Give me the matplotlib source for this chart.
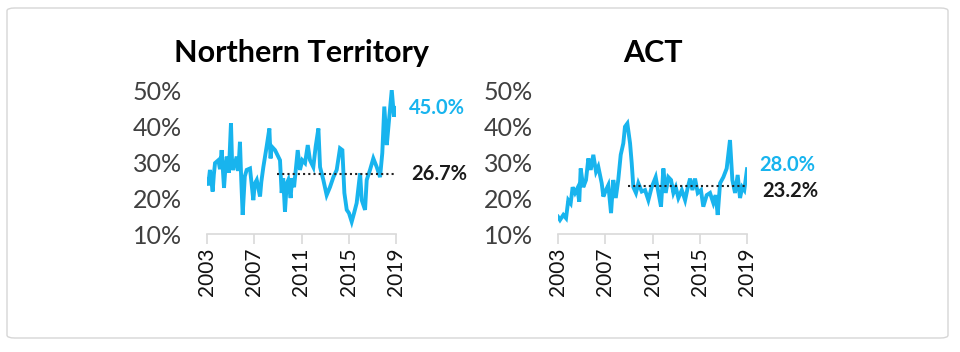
import numpy as np
import matplotlib
matplotlib.use("Agg")
import matplotlib.pyplot as plt
from matplotlib.patches import FancyBboxPatch

plt.rcParams['font.family'] = ['Lato', 'DejaVu Sans']

# values (decimal year, percent)
nt_years = [2003.0, 2003.1, 2003.25, 2003.48, 2003.58, 2003.68, 2003.96, 2004.1,
            2004.24, 2004.44, 2004.55, 2004.67, 2004.85, 2005.03, 2005.13, 2005.23,
            2005.51, 2005.65, 2005.79, 2005.9, 2006.02, 2006.2, 2006.36, 2006.64,
            2006.92, 2007.05, 2007.21, 2007.49, 2007.6, 2007.77, 2008.05, 2008.28,
            2008.38, 2008.48, 2008.76, 2009.18, 2009.32, 2009.45, 2009.6, 2009.75,
            2009.88, 2010.08, 2010.2, 2010.37, 2010.68, 2010.87, 2011.07, 2011.3,
            2011.53, 2011.72, 2012.0, 2012.2, 2012.43, 2012.57, 2012.85, 2013.13,
            2013.41, 2013.7, 2013.98, 2014.26, 2014.46, 2014.63, 2014.83, 2015.02,
            2015.25, 2015.45, 2015.67, 2015.96, 2016.1, 2016.38, 2016.52, 2016.8,
            2017.08, 2017.37, 2017.65, 2017.84, 2018.01, 2018.22, 2018.41, 2018.64,
            2018.83, 2019.0]
nt_vals = [25.0, 23.5, 27.8, 21.8, 26.5, 29.7, 30.5, 28.0,
           33.3, 22.8, 28.0, 31.5, 27.0, 40.8, 29.0, 27.8,
           31.5, 27.5, 35.6, 25.0, 15.3, 26.0, 27.8, 28.2,
           19.4, 24.0, 25.0, 20.4, 24.5, 28.6, 34.3, 39.3,
           31.0, 34.3, 33.3, 30.5, 21.4, 25.5, 16.2, 24.0,
           25.0, 20.0, 25.5, 23.0, 33.3, 27.8, 30.5, 29.7,
           34.7, 30.5, 28.6, 34.3, 39.3, 28.6, 25.0, 20.8,
           23.0, 25.8, 27.8, 33.8, 33.3, 21.4, 16.7, 15.8,
           13.4, 15.8, 18.6, 26.9, 19.4, 16.7, 25.0, 27.8,
           31.0, 28.6, 25.8, 32.5, 45.4, 34.7, 41.7, 50.0,
           42.6, 45.0]

act_years = [2003.0, 2003.17, 2003.45, 2003.68, 2003.87, 2004.07, 2004.24, 2004.44,
             2004.64, 2004.8, 2004.92, 2005.14, 2005.37, 2005.57, 2005.77, 2005.99,
             2006.22, 2006.41, 2006.7, 2006.84, 2007.06, 2007.26, 2007.49, 2007.68,
             2007.89, 2008.1, 2008.31, 2008.53, 2008.67, 2008.87, 2009.1, 2009.24,
             2009.38, 2009.6, 2009.8, 2010.09, 2010.37, 2010.65, 2010.93, 2011.27,
             2011.49, 2011.72, 2011.92, 2012.12, 2012.34, 2012.57, 2012.77, 2012.97,
             2013.19, 2013.48, 2013.76, 2013.99, 2014.18, 2014.38, 2014.6, 2014.83,
             2015.1, 2015.3, 2015.59, 2015.87, 2016.15, 2016.35, 2016.52, 2016.72,
             2017.0, 2017.28, 2017.56, 2017.76, 2017.99, 2018.21, 2018.41, 2018.6,
             2018.77, 2019.0]
act_vals = [14.8, 13.9, 15.3, 14.4, 19.4, 18.5, 23.0, 21.4,
            22.7, 19.0, 28.2, 23.0, 25.0, 31.0, 27.8, 32.0,
            27.3, 28.7, 24.1, 20.4, 22.2, 23.6, 15.8, 25.0,
            20.0, 25.0, 32.0, 35.2, 39.8, 40.7, 35.2, 29.7,
            23.0, 21.4, 24.1, 21.8, 22.2, 19.4, 23.0, 25.8,
            21.7, 17.6, 28.2, 21.4, 25.8, 25.0, 21.4, 23.0,
            20.0, 22.2, 19.4, 23.0, 25.4, 22.2, 25.4, 21.4,
            22.2, 17.6, 20.8, 21.4, 18.6, 20.8, 15.3, 24.1,
            25.8, 28.2, 36.1, 25.0, 21.4, 26.4, 20.0, 23.0,
            22.2, 28.0]

titles = ["Northern Territory", "ACT"]
averages = [26.7, 23.2]
latest = [45.0, 28.0]
avg_start = 2008.9
xticks = [2003, 2007, 2011, 2015, 2019]
yticks = [10, 20, 30, 40, 50]

blue = '#18B4EE'

fig = plt.figure(figsize=(9.6, 3.52), dpi=100)
border = FancyBboxPatch((7 / 960, 14 / 352), 941 / 960, 330 / 352,
                        boxstyle="round,pad=0,rounding_size=0.008",
                        transform=fig.transFigure, facecolor='none',
                        edgecolor='#d6d6d6', linewidth=1.0, zorder=-1)
fig.patches.append(border)

series = [(nt_years, nt_vals), (act_years, act_vals)]
lefts = [207 / 960, 558 / 960]
# small vertical nudges (points) so close labels don't collide
nudge_latest = [0, 3]
nudge_avg = [0, -3]

for i in range(2):
    ax = fig.add_axes([lefts[i], 1 - 234 / 352, 189 / 960, 144 / 352])
    ax.patch.set_alpha(0)
    yrs, vals = series[i]
    ax.plot(yrs, vals, color=blue, lw=2.8, solid_joinstyle='miter')
    ax.plot([avg_start, 2019], [averages[i]] * 2, color='#222222', lw=1.5,
            linestyle=(0, (1, 1.5)))
    ax.set_xlim(2003, 2019)
    ax.set_ylim(10, 50)
    ax.set_xticks(xticks)
    ax.set_xticklabels([str(t) for t in xticks], rotation=90, fontsize=15,
                       color='#111111')
    ax.set_yticks(yticks)
    ax.set_yticklabels(['%d%%' % t for t in yticks], fontsize=18, color='#404040')
    ax.tick_params(axis='y', length=0, pad=18)
    ax.tick_params(axis='x', length=7, color='#d9d9d9', width=1.2, pad=3)
    for s in ['top', 'right', 'left']:
        ax.spines[s].set_visible(False)
    ax.spines['bottom'].set_color('#d9d9d9')
    ax.spines['bottom'].set_linewidth(1.2)
    ax.set_title(titles[i], fontsize=22, fontweight='bold', pad=20, color='black')

    ax.annotate('%.1f%%' % latest[i], (2019, latest[i]), xytext=(9, nudge_latest[i]),
                textcoords='offset points', ha='left', va='center',
                fontsize=14.5, fontweight='bold', color=blue, annotation_clip=False)
    ax.annotate('%.1f%%' % averages[i], (2019, averages[i]), xytext=(11, nudge_avg[i]),
                textcoords='offset points', ha='left', va='center',
                fontsize=14.5, fontweight='bold', color='#1a1a1a', annotation_clip=False)

fig.savefig('out.png', dpi=100)
